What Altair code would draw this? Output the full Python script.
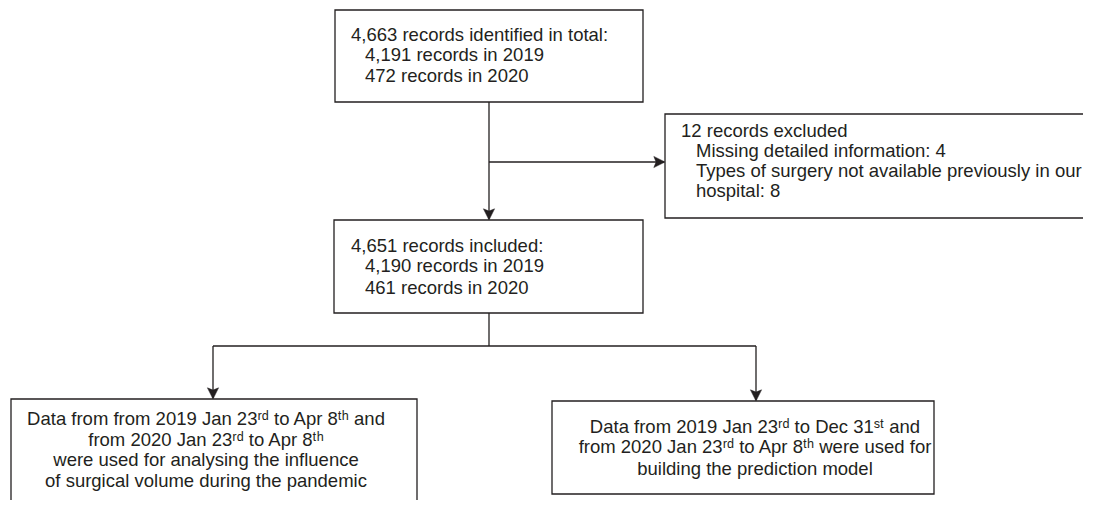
import altair as alt
import pandas as pd

# ---- text content ----
left_lines = [
    "4,663 records identified in total:",
    "4,191 records in 2019",
    "472 records in 2020",
    "12 records excluded",
    "Missing detailed information: 4",
    "Types of surgery not available previously in our",
    "hospital: 8",
    "4,651 records included:",
    "4,190 records in 2019",
    "461 records in 2020",
]
center_lines = [
    "Data from from 2019 Jan 23ʳᵈ to Apr 8ᵗʰ and",
    "from 2020 Jan 23ʳᵈ to Apr 8ᵗʰ",
    "were used for analysing the influence",
    "of surgical volume during the pandemic",
    "Data from 2019 Jan 23ʳᵈ to Dec 31ˢᵗ and",
    "from 2020 Jan 23ʳᵈ to Apr 8ᵗʰ were used for",
    "building the prediction model",
]

# ---- layout (page pixel coordinates) ----
left_x = [351, 365, 365, 681, 696, 696, 696, 351, 365, 365]
left_y = [41, 61, 82, 137, 157, 177, 197, 252, 272, 294]
center_x = [206, 206, 206, 206, 755, 755, 755]
center_y = [425, 446, 466, 487, 433, 453, 475]

box_x1 = [335, 665, 334, 11, 552]
box_x2 = [643, 1110, 643, 417, 934]
box_y1 = [10, 114, 220, 399, 401]
box_y2 = [102, 218, 313, 540, 494]

seg_x1 = [489, 489, 489, 213, 213, 756]
seg_x2 = [489, 664, 489, 756, 213, 756]
seg_y1 = [102, 162, 313, 346, 346, 346]
seg_y2 = [219, 162, 346, 346, 398, 400]

arrow_x = [489, 665, 213, 756]
arrow_y = [220, 162, 399, 401]
arrow_dir = ["down", "right", "down", "down"]

INK = "#231f20"
FONT = "Liberation Sans"
FS = 18.5

X0, X1 = 8, 1083
Y0, Y1 = 8, 500
xs = alt.Scale(domain=[X0, X1], nice=False, zero=False)
ys = alt.Scale(domain=[Y0, Y1], nice=False, zero=False, reverse=True)

boxes = pd.DataFrame({"x1": box_x1, "x2": box_x2, "y1": box_y1, "y2": box_y2})
segs = pd.DataFrame({"x1": seg_x1, "x2": seg_x2, "y1": seg_y1, "y2": seg_y2})
arrows = pd.DataFrame({"x": arrow_x, "y": arrow_y, "dir": arrow_dir})
ltext = pd.DataFrame({"t": left_lines, "x": left_x, "y": left_y})
ctext = pd.DataFrame({"t": center_lines, "x": center_x, "y": center_y})

rects = alt.Chart(boxes).mark_rect(
    fill="white", stroke=INK, strokeWidth=1.3, clip=True
).encode(
    x=alt.X("x1:Q", scale=xs, axis=None),
    x2="x2:Q",
    y=alt.Y("y1:Q", scale=ys, axis=None),
    y2="y2:Q",
)

rules = alt.Chart(segs).mark_rule(color=INK, strokeWidth=1.3).encode(
    x=alt.X("x1:Q", scale=xs, axis=None),
    x2="x2:Q",
    y=alt.Y("y1:Q", scale=ys, axis=None),
    y2="y2:Q",
)

down_shape = "M0,0 L-0.5,-1 L0,-0.8 L0.5,-1 Z"
right_shape = "M0,0 L-1,-0.5 L-0.8,0 L-1,0.5 Z"

arrow_down = alt.Chart(arrows).transform_filter(
    alt.datum.dir == "down"
).mark_point(shape=down_shape, filled=True, color=INK, size=500, opacity=1,
             strokeWidth=0.5, stroke=INK).encode(
    x=alt.X("x:Q", scale=xs, axis=None),
    y=alt.Y("y:Q", scale=ys, axis=None),
)
arrow_right = alt.Chart(arrows).transform_filter(
    alt.datum.dir == "right"
).mark_point(shape=right_shape, filled=True, color=INK, size=500, opacity=1,
             strokeWidth=0.5, stroke=INK).encode(
    x=alt.X("x:Q", scale=xs, axis=None),
    y=alt.Y("y:Q", scale=ys, axis=None),
)

tl = alt.Chart(ltext).mark_text(
    align="left", baseline="alphabetic", font=FONT, fontSize=FS, color=INK
).encode(
    x=alt.X("x:Q", scale=xs, axis=None),
    y=alt.Y("y:Q", scale=ys, axis=None),
    text="t:N",
)
tc = alt.Chart(ctext).mark_text(
    align="center", baseline="alphabetic", font=FONT, fontSize=FS, color=INK
).encode(
    x=alt.X("x:Q", scale=xs, axis=None),
    y=alt.Y("y:Q", scale=ys, axis=None),
    text="t:N",
)

chart = alt.layer(rects, rules, arrow_down, arrow_right, tl, tc).properties(
    width=X1 - X0, height=Y1 - Y0, padding=0,
    autosize=alt.AutoSizeParams(type="none"),
).configure_view(stroke=None)

chart.save("out.html", embed_options={"renderer": "svg", "actions": False})
